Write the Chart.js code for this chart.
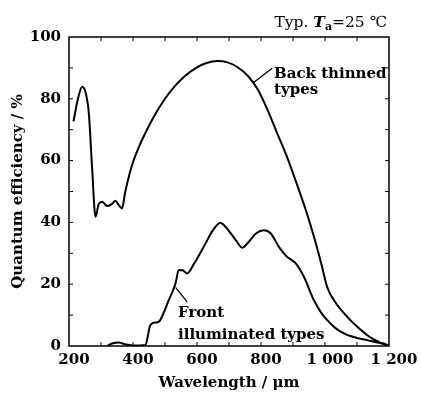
<!DOCTYPE html>
<html>
<head>
<meta charset="utf-8">
<script src="https://cdn.jsdelivr.net/npm/chart.js@4"></script>
<style>
html,body{margin:0;padding:0;background:#fff;}
#wrap{width:421px;height:394px;}
</style>
</head>
<body>
<div id="wrap"><canvas id="c" width="421" height="394"></canvas></div>
<script>
// ---- data ----
const backX = [214, 228, 241, 252, 262, 272, 283, 293, 304, 319, 335, 345, 356, 366, 375, 385, 400, 420, 440, 465, 500, 530, 565, 600, 630, 663, 695, 726, 760, 790, 820, 850, 880, 910, 940, 965, 990, 1007, 1030, 1069, 1100, 1132, 1160, 1185, 1200];
const backY = [72.7, 80, 83.9, 82, 75.3, 58, 41.8, 46, 46.7, 45.3, 46, 47, 45.5, 44.5, 49.5, 54, 59.5, 64.8, 69.2, 74.2, 80, 84, 87.6, 90.2, 91.6, 92.2, 91.8, 90.3, 87.3, 83, 76.5, 69, 61.5, 53, 44, 35.5, 26, 19, 14.5, 9.5, 6.3, 3.5, 1.7, 0.5, 0];
const frontX = [319, 335, 356, 375, 397, 420, 439, 446, 453, 465, 481, 497, 512, 523, 533, 543, 555, 569, 590, 621, 650, 673, 690, 705, 723, 741, 760, 785, 809, 830, 856, 880, 908, 934, 965, 990, 1017, 1040, 1069, 1100, 1132, 1160, 1183, 1200];
const frontY = [0, 0.8, 1.1, 0.6, 0.2, 0.2, 0.3, 3, 6.5, 7.5, 7.9, 11, 14.9, 17.5, 20.3, 24.6, 24.5, 23.5, 26.5, 32.1, 37.5, 39.9, 38.5, 36.5, 34, 31.8, 33.5, 36.5, 37.5, 36.5, 32.1, 29, 26.8, 22.4, 14.9, 10.5, 7.3, 5.2, 3.6, 2.6, 1.9, 1.2, 0.8, 0];
const xTicks = [200, 400, 600, 800, 1000, 1200];
const yTicks = [0, 20, 40, 60, 80, 100];
const seriesNames = ['Back thinned types', 'Front illuminated types'];
const xTitle = 'Wavelength / μm';
const yTitle = 'Quantum efficiency / %';

const FONT = '"DejaVu Serif", "Liberation Serif", serif';

function pts(xs, ys){ return xs.map((x,i)=>({x:x, y:ys[i]})); }

const decor = {
  id:'decor',
  afterDraw(chart){
    const ctx = chart.ctx;
    const xs = chart.scales.x, ys = chart.scales.y;
    const L = xs.left, R = xs.right, T = ys.top, B = ys.bottom;
    ctx.save();
    ctx.strokeStyle = '#000';
    ctx.lineWidth = 1.5;
    ctx.strokeRect(L, T, R-L, B-T);
    ctx.lineWidth = 1;
    ctx.beginPath();
    for(let v=300; v<1200; v+=100){
      const p = xs.getPixelForValue(v);
      ctx.moveTo(p, B); ctx.lineTo(p, B-4);
      ctx.moveTo(p, T); ctx.lineTo(p, T+4);
    }
    for(let v=10; v<100; v+=10){
      const p = ys.getPixelForValue(v);
      ctx.moveTo(L, p); ctx.lineTo(L+4, p);
      ctx.moveTo(R, p); ctx.lineTo(R-4, p);
    }
    ctx.stroke();

    // leader lines
    ctx.lineWidth = 1.3;
    ctx.beginPath();
    ctx.moveTo(xs.getPixelForValue(776), ys.getPixelForValue(85.2));
    ctx.lineTo(xs.getPixelForValue(835), ys.getPixelForValue(89.9));
    ctx.moveTo(xs.getPixelForValue(533), ys.getPixelForValue(19));
    ctx.lineTo(xs.getPixelForValue(569), ys.getPixelForValue(14.3));
    ctx.stroke();

    ctx.fillStyle = '#000';
    ctx.textAlign = 'left';
    ctx.textBaseline = 'alphabetic';
    ctx.font = 'bold 15px ' + FONT;
    ctx.fillText('Back thinned', 274, 78);
    ctx.fillText('types', 274, 94);
    ctx.fillText('Front', 178, 317);
    ctx.fillText('illuminated types', 178, 339);

    // condition text
    const parts = [
      {t:'Typ. ', f:'15.5px '+FONT, dy:0},
      {t:'T', f:'italic bold 15.5px '+FONT, dy:0},
      {t:'a', f:'bold 11px '+FONT, dy:3},
      {t:'=25 ℃', f:'15.5px '+FONT, dy:0}
    ];
    let total = 0;
    parts.forEach(p=>{ ctx.font = p.f; p.w = ctx.measureText(p.t).width; total += p.w; });
    let x = 387 - total;
    parts.forEach(p=>{ ctx.font = p.f; ctx.fillText(p.t, x, 27 + p.dy); x += p.w; });
    ctx.restore();
  }
};

new Chart(document.getElementById('c'), {
  type:'line',
  data:{
    datasets:[
      {label:seriesNames[0], data:pts(backX, backY), borderColor:'#000', borderWidth:2, pointRadius:0, cubicInterpolationMode:'monotone', fill:false},
      {label:seriesNames[1], data:pts(frontX, frontY), borderColor:'#000', borderWidth:2, pointRadius:0, cubicInterpolationMode:'monotone', fill:false}
    ]
  },
  options:{
    responsive:false,
    animation:false,
    devicePixelRatio:1,
    layout:{padding:{top:37, right:32, left:0, bottom:0}},
    plugins:{legend:{display:false}, tooltip:{enabled:false}},
    scales:{
      x:{
        type:'linear', min:200, max:1200,
        afterBuildTicks(s){ s.ticks = xTicks.map(v=>({value:v})); },
        afterFit(s){ s.height = 48; },
        grid:{display:false, drawTicks:false},
        border:{display:false},
        ticks:{
          padding:5, labelOffset:5, maxRotation:0, autoSkip:false,
          color:'#000', font:{family:FONT, size:15, weight:'bold'},
          callback:v=> v>=1000 ? String(v).replace(/(\d)(\d{3})$/, '$1 $2') : String(v)
        },
        title:{display:true, text:xTitle, color:'#000', font:{family:FONT, size:15, weight:'bold'}, padding:{top:0, bottom:2}}
      },
      y:{
        type:'linear', min:0, max:100,
        afterBuildTicks(s){ s.ticks = yTicks.map(v=>({value:v})); },
        afterFit(s){ s.width = 69; },
        grid:{display:false, drawTicks:false},
        border:{display:false},
        ticks:{padding:8, color:'#000', font:{family:FONT, size:15, weight:'bold'}},
        title:{display:true, text:yTitle, color:'#000', font:{family:FONT, size:15, weight:'bold'}, padding:{top:9, bottom:0}}
      }
    }
  },
  plugins:[decor]
});
</script>
</body>
</html>
